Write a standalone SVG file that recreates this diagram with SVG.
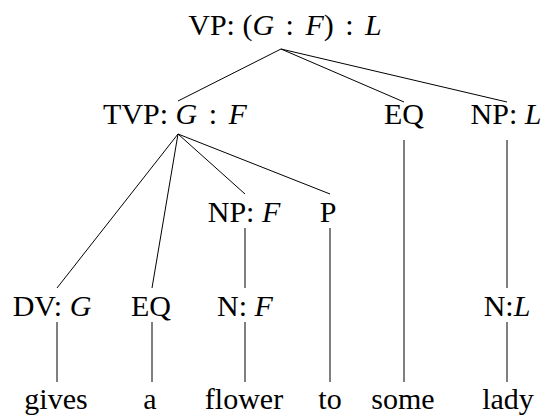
<svg xmlns="http://www.w3.org/2000/svg" width="550" height="416" viewBox="0 0 550 416">
  <style>
    .lbl { font-family: "Liberation Serif", "Times New Roman", serif; font-size: 30px; fill: #000; text-anchor: middle; }
    .m { font-style: italic; }
    .edges line { stroke: #000; stroke-width: 1; }
  </style>
  <rect width="550" height="416" fill="#fff"/>

  <!-- tree edges -->
  <g class="edges">
    <line x1="281" y1="49" x2="178" y2="101"/>
    <line x1="281" y1="49" x2="404" y2="102"/>
    <line x1="281" y1="49" x2="507" y2="102"/>
    <line x1="178" y1="134" x2="57" y2="288"/>
    <line x1="178" y1="134" x2="152" y2="288"/>
    <line x1="178" y1="134" x2="245" y2="194"/>
    <line x1="178" y1="134" x2="330" y2="194"/>
    <line x1="245" y1="228" x2="245" y2="288"/>
    <line x1="330" y1="228" x2="330" y2="382"/>
    <line x1="404" y1="140" x2="404" y2="382"/>
    <line x1="507" y1="140" x2="507" y2="288"/>
    <line x1="57" y1="322" x2="57" y2="382"/>
    <line x1="152" y1="322" x2="152" y2="382"/>
    <line x1="245" y1="322" x2="245" y2="382"/>
    <line x1="507" y1="322" x2="507" y2="382"/>
  </g>

  <!-- nodes -->
  <g id="vp"><text class="lbl" x="285" y="35">VP: (<tspan class="m">G</tspan><tspan dx="4"> : </tspan><tspan class="m" dx="4">F</tspan>)<tspan dx="4"> : </tspan><tspan class="m" dx="4">L</tspan></text></g>
  <g id="tvp"><text class="lbl" x="175" y="124">TVP: <tspan class="m">G</tspan><tspan dx="4"> : </tspan><tspan class="m" dx="4">F</tspan></text></g>
  <g id="eq1"><text class="lbl" x="404" y="124">EQ</text></g>
  <g id="np-l"><text class="lbl" x="506" y="124">NP: <tspan class="m">L</tspan></text></g>
  <g id="np-f"><text class="lbl" x="244" y="222">NP: <tspan class="m">F</tspan></text></g>
  <g id="p"><text class="lbl" x="328" y="222">P</text></g>
  <g id="dv"><text class="lbl" x="52" y="316">DV: <tspan class="m">G</tspan></text></g>
  <g id="eq2"><text class="lbl" x="151" y="316">EQ</text></g>
  <g id="n-f"><text class="lbl" x="245" y="316">N: <tspan class="m">F</tspan></text></g>
  <g id="n-l"><text class="lbl" x="507" y="316">N:<tspan class="m">L</tspan></text></g>

  <!-- leaves -->
  <g id="w-gives"><text class="lbl" x="56" y="409">gives</text></g>
  <g id="w-a"><text class="lbl" x="150" y="409">a</text></g>
  <g id="w-flower"><text class="lbl" x="244" y="409">flower</text></g>
  <g id="w-to"><text class="lbl" x="330" y="409">to</text></g>
  <g id="w-some"><text class="lbl" x="403" y="409">some</text></g>
  <g id="w-lady"><text class="lbl" x="508" y="409">lady</text></g>
</svg>
